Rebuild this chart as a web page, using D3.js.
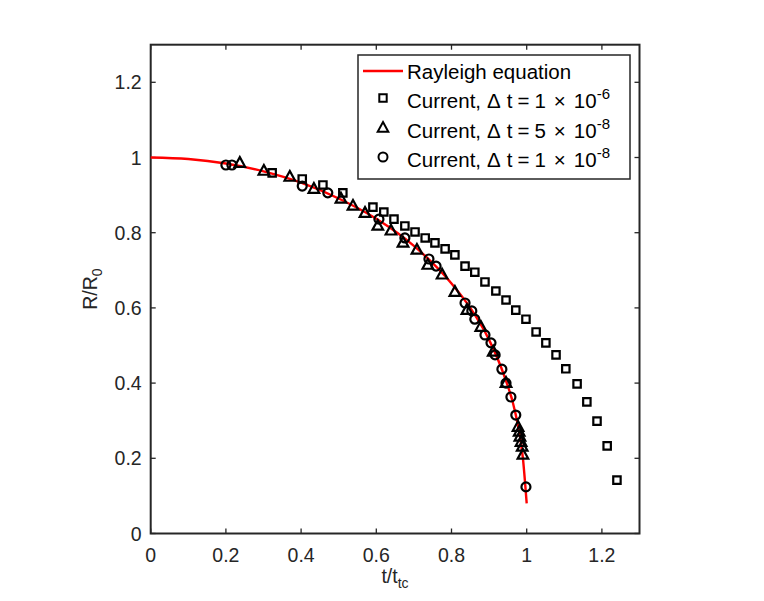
<!DOCTYPE html>
<html>
  <head>
    <meta charset="utf-8" />
    <script src="https://cdn.jsdelivr.net/npm/d3@7"></script>
    <style>
      body { margin: 0; background: #fff; }
      text { font-family: 'Liberation Sans', Arial, sans-serif; fill: #262626; }
    </style>
  </head>
  <body>
    <svg id="chart" width="764" height="601"></svg>
    <script>
      // Rayleigh curve
      var rayT = [0, 0.1, 0.2, 0.3, 0.4, 0.5, 0.6, 0.7, 0.8, 0.85, 0.9, 0.94, 0.97, 0.99, 1.0];
      var rayR = [1.0, 0.996, 0.984, 0.963, 0.933, 0.891, 0.837, 0.765, 0.665, 0.6, 0.515, 0.42, 0.32, 0.2, 0.08];

      // dt = 1e-6 (squares)
      var sqT = [0.323, 0.403, 0.458, 0.511, 0.591, 0.62, 0.647, 0.676, 0.703, 0.73, 0.756, 0.783, 0.809, 0.836, 0.862, 0.889, 0.918, 0.945, 0.971, 0.998, 1.025, 1.051, 1.078, 1.104, 1.134, 1.16, 1.187, 1.214, 1.24];
      var sqR = [0.959, 0.943, 0.927, 0.906, 0.868, 0.855, 0.836, 0.818, 0.802, 0.786, 0.773, 0.757, 0.741, 0.711, 0.695, 0.669, 0.645, 0.621, 0.594, 0.57, 0.536, 0.507, 0.475, 0.438, 0.398, 0.35, 0.299, 0.233, 0.142];

      // dt = 5e-8 (triangles)
      var triT = [0.237, 0.301, 0.37, 0.434, 0.506, 0.538, 0.57, 0.604, 0.639, 0.671, 0.708, 0.737, 0.775, 0.809, 0.841, 0.878, 0.911, 0.945, 0.977, 0.98, 0.982, 0.985, 0.988, 0.99];
      var triR = [0.985, 0.964, 0.948, 0.916, 0.89, 0.871, 0.852, 0.818, 0.805, 0.773, 0.754, 0.714, 0.688, 0.642, 0.594, 0.549, 0.483, 0.4, 0.283, 0.27, 0.257, 0.243, 0.23, 0.209];

      // dt = 1e-8 (circles)
      var cirT = [0.2, 0.216, 0.403, 0.471, 0.607, 0.676, 0.74, 0.759, 0.836, 0.854, 0.862, 0.889, 0.905, 0.916, 0.934, 0.945, 0.958, 0.971, 0.998];
      var cirR = [0.98, 0.98, 0.924, 0.906, 0.836, 0.786, 0.73, 0.711, 0.613, 0.592, 0.57, 0.528, 0.507, 0.475, 0.437, 0.4, 0.363, 0.315, 0.124];

      var ticks = [0, 0.2, 0.4, 0.6, 0.8, 1, 1.2];
      var legendDt = ['', '1', '5', '1'];
      var legendExp = ['', '-6', '-8', '-8'];

      var svg = d3.select('#chart');
      var pLeft = 150.7, pRight = 639.5, pTop = 44.7, pBottom = 533.5;

      var sx = d3.scaleLinear().domain([0, 1.3]).range([pLeft, pRight]);
      var sy = d3.scaleLinear().domain([0, 1.3]).range([pBottom, pTop]);

      var axisColor = '#262626';

      // ticks on all four sides, pointing inward
      var g = svg.append('g');
      ticks.forEach(function(t) {
        g.append('line').attr('x1', sx(t)).attr('x2', sx(t)).attr('y1', pBottom).attr('y2', pBottom - 5)
          .attr('stroke', axisColor).attr('stroke-width', 1.3);
        g.append('line').attr('x1', sx(t)).attr('x2', sx(t)).attr('y1', pTop).attr('y2', pTop + 5)
          .attr('stroke', axisColor).attr('stroke-width', 1.3);
        g.append('line').attr('y1', sy(t)).attr('y2', sy(t)).attr('x1', pLeft).attr('x2', pLeft + 5)
          .attr('stroke', axisColor).attr('stroke-width', 1.3);
        g.append('line').attr('y1', sy(t)).attr('y2', sy(t)).attr('x1', pRight).attr('x2', pRight - 5)
          .attr('stroke', axisColor).attr('stroke-width', 1.3);

        g.append('text').attr('x', sx(t)).attr('y', pBottom + 28).attr('text-anchor', 'middle')
          .style('font-size', '19.5px').text(d3.format('~g')(t));
        g.append('text').attr('x', pLeft - 9).attr('y', sy(t) + 7).attr('text-anchor', 'end')
          .style('font-size', '19.5px').text(d3.format('~g')(t));
      });

      svg.append('rect').attr('x', pLeft).attr('y', pTop).attr('width', pRight - pLeft).attr('height', pBottom - pTop)
        .attr('fill', 'none').attr('stroke', axisColor).attr('stroke-width', 2);

      // axis labels
      var xl = svg.append('text').attr('x', 395).attr('y', 583).attr('text-anchor', 'middle').style('font-size', '19.5px');
      xl.append('tspan').text('t/t');
      xl.append('tspan').attr('dy', 5).style('font-size', '14px').text('tc');

      var yl = svg.append('text').attr('transform', 'translate(97,' + (pBottom + pTop) / 2 + ') rotate(-90)')
        .attr('text-anchor', 'middle').style('font-size', '19.5px');
      yl.append('tspan').text('R/R');
      yl.append('tspan').attr('dy', 5).style('font-size', '14px').text('0');

      // Rayleigh line
      var line = d3.line().x(function(d) { return sx(d[0]); }).y(function(d) { return sy(d[1]); }).curve(d3.curveMonotoneX);
      svg.append('path').datum(d3.zip(rayT, rayR)).attr('d', line)
        .attr('fill', 'none').attr('stroke', '#ff0000').attr('stroke-width', 2.4);

      function markerPath(type) {
        if (type == 'square') return 'M-3.7,-3.7H3.7V3.7H-3.7Z';
        if (type == 'triangle') return 'M0,-6L5.3,3.7H-5.3Z';
        return 'M4.5,0A4.5,4.5 0 1,1 -4.5,0A4.5,4.5 0 1,1 4.5,0Z';
      }

      function drawMarkers(ts, rs, type) {
        var pts = d3.zip(ts, rs);
        svg.append('g').selectAll('path').data(pts).enter().append('path')
          .attr('transform', function(d) { return 'translate(' + sx(d[0]) + ',' + sy(d[1]) + ')'; })
          .attr('d', markerPath(type))
          .attr('fill', 'none').attr('stroke', '#000').attr('stroke-width', 2.2);
      }

      drawMarkers(sqT, sqR, 'square');
      drawMarkers(triT, triR, 'triangle');
      drawMarkers(cirT, cirR, 'circle');

      // legend
      var lg = svg.append('g');
      lg.append('rect').attr('x', 358).attr('y', 55).attr('width', 272).attr('height', 124)
        .attr('fill', '#fff').attr('stroke', axisColor).attr('stroke-width', 1.5);
      var rowY = [71, 100, 130, 159];
      var types = ['line', 'square', 'triangle', 'circle'];
      rowY.forEach(function(y, i) {
        if (types[i] == 'line') {
          lg.append('line').attr('x1', 363).attr('x2', 403).attr('y1', y).attr('y2', y)
            .attr('stroke', '#ff0000').attr('stroke-width', 2.4);
        } else {
          lg.append('path').attr('transform', 'translate(383,' + (y - 2) + ')').attr('d', markerPath(types[i]))
            .attr('fill', 'none').attr('stroke', '#000').attr('stroke-width', 2);
        }
        var t = lg.append('text').attr('x', 407).attr('y', y + 8).style('font-size', '20.5px').style('fill', '#000');
        if (i == 0) {
          t.text('Rayleigh equation');
        } else {
          t.append('tspan').text('Current,');
          t.append('tspan').attr('dx', 6).text('\u0394');
          t.append('tspan').attr('dx', 6).text('t');
          t.append('tspan').attr('dx', 5).text('=');
          t.append('tspan').attr('dx', 5).text(legendDt[i]);
          t.append('tspan').attr('dx', 8).text('\u00d7');
          t.append('tspan').attr('dx', 8).text('10');
          t.append('tspan').attr('dy', -9).style('font-size', '15px').text(legendExp[i]);
        }
      });
    </script>
  </body>
</html>
